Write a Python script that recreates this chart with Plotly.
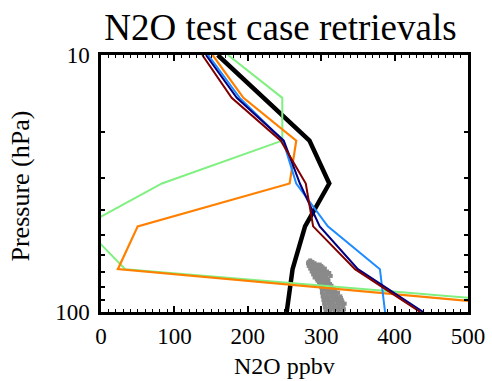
import plotly.graph_objects as go

# Retrieval pressure levels (hPa)
levels_hpa = [10, 14.68, 21.54, 31.62, 46.42, 68.13, 100]

# N2O profiles (ppbv) on the retrieval levels
truth_ppbv = [159, 222, 284, 311, 278, 261, 253]
green_ppbv = [173, 247, 247, 83, -24, 33, 732]
orange_ppbv = [152, 194, 266, 257, 50, 23, 666]
blue_ppbv = [146, 189, 248, 266, 309, 380, 387]
navy_ppbv = [143, 185, 249, 271, 298, 350, 439]
maroon_ppbv = [138, 178, 245, 279, 289, 346, 435]

# Scattered measurements near the bottom of the column, one row per pressure
gray_rows_hpa = [63.0, 63.8, 64.6, 65.4, 66.2, 67.0, 67.8, 68.7, 69.6, 70.5, 71.4,
                 72.4, 73.4, 74.4, 75.5, 76.6, 77.8, 79.0, 80.2, 81.5, 82.8, 84.1,
                 85.5, 86.9, 88.3, 89.8, 91.3, 92.8, 94.4, 96.0, 97.6, 99.3]
gray_rows_ppbv = [
    [285], [283, 288], [282, 287, 291], [284, 289, 294, 298], [283, 288, 293, 300],
    [286, 291, 296, 302], [285, 290, 295, 299, 305], [288, 293, 298, 304],
    [287, 292, 297, 302, 308], [290, 295, 300, 306, 311], [289, 294, 299, 304, 309],
    [292, 297, 302, 307, 313], [291, 296, 301, 306], [294, 299, 304, 309],
    [295, 300, 305, 310], [297, 302, 307], [298, 303, 308, 312], [299, 304, 309, 314],
    [300, 305, 311], [301, 306, 312, 317], [302, 308, 314, 319],
    [301, 307, 313, 319, 323], [303, 309, 315, 321], [302, 308, 314, 320, 326],
    [304, 310, 316, 322, 327], [303, 309, 315, 321, 328], [305, 311, 317, 323, 329],
    [304, 310, 316, 322, 328, 332], [306, 312, 318, 324, 330], [305, 311, 317, 323, 329],
    [307, 313, 319, 325, 331], [306, 312, 318, 324, 330],
]
gray_hpa = [p for p, row in zip(gray_rows_hpa, gray_rows_ppbv) for _ in row]
gray_ppbv = [v for row in gray_rows_ppbv for v in row]

serif = "Liberation Serif, Times New Roman, serif"

fig = go.Figure()

fig.add_trace(go.Scatter(
    x=gray_ppbv, y=gray_hpa, mode="markers",
    marker=dict(symbol="square", size=4, color="#8a8a8a", line=dict(width=0)),
    showlegend=False, hoverinfo="skip"))

profiles = [
    (truth_ppbv, "#000000", 4.5),
    (green_ppbv, "#80f080", 2),
    (orange_ppbv, "#ff8000", 2.2),
    (blue_ppbv, "#1e8cff", 2),
    (navy_ppbv, "#000080", 2),
    (maroon_ppbv, "#800000", 2),
]
for vals, color, width in profiles:
    fig.add_trace(go.Scatter(
        x=vals, y=levels_hpa, mode="lines",
        line=dict(color=color, width=width),
        showlegend=False, hoverinfo="skip"))

axis_common = dict(
    showline=True, linecolor="black", linewidth=2.5, mirror="allticks",
    ticks="inside", tickcolor="black", tickwidth=1.5,
    showgrid=False, zeroline=False, automargin=False,
    tickfont=dict(family=serif, size=23, color="black"),
)

fig.update_xaxes(
    range=[0, 500], tickvals=[0, 100, 200, 300, 400, 500], ticklen=6,
    ticklabelstandoff=2,
    minor=dict(ticks="inside", dtick=10, ticklen=3, tickcolor="black", tickwidth=1),
    **axis_common)

fig.update_yaxes(
    type="log", range=[2, 1], tickvals=[10, 100], ticktext=["10", "100"], ticklen=7,
    ticklabelstandoff=4,
    minor=dict(ticks="inside", tickvals=[20, 30, 40, 50, 60, 70, 80, 90], ticklen=4,
               tickcolor="black", tickwidth=1.5),
    **axis_common)

# Axis titles
fig.add_annotation(text="N2O ppbv", xref="paper", yref="paper", x=0.5, y=0,
                   xanchor="center", yanchor="middle", yshift=-54, showarrow=False,
                   font=dict(family=serif, size=24, color="black"))
fig.add_annotation(text="Pressure (hPa)", xref="paper", yref="paper", x=0, y=0.5,
                   xanchor="center", yanchor="middle", xshift=-81, yshift=-3,
                   textangle=-90, showarrow=False,
                   font=dict(family=serif, size=26, color="black"))

fig.update_layout(
    width=492, height=381,
    margin=dict(l=101, r=24, t=55, b=69),
    paper_bgcolor="white", plot_bgcolor="white",
    title=dict(text="N2O test case retrievals", x=0.57, xanchor="center",
               y=0.93, yanchor="middle",
               font=dict(family=serif, size=37, color="black")),
)

fig.write_html("out.html")
